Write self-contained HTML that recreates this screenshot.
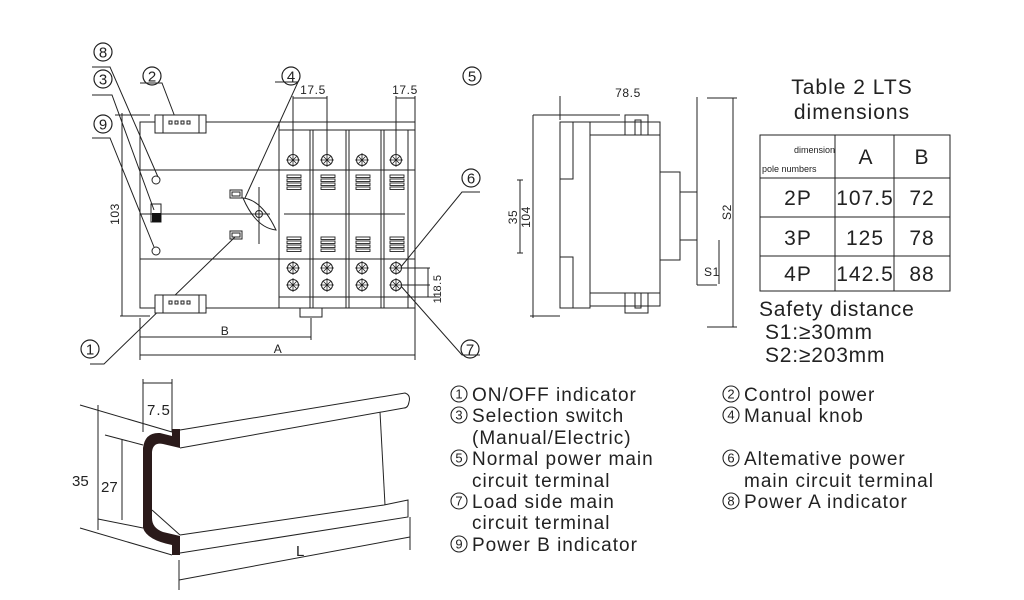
<!DOCTYPE html>
<html><head><meta charset="utf-8"><style>
html,body{margin:0;padding:0;background:#fff;}
svg{display:block;font-family:"Liberation Sans","DejaVu Sans",sans-serif;}
</style></head><body>
<svg width="1024" height="600" viewBox="0 0 1024 600" xmlns="http://www.w3.org/2000/svg">
<defs>
<g id="scr"><circle r="5.5" fill="#fff" stroke="#222" stroke-width="1"/><path d="M-3.5,-3.5L3.5,3.5M-3.5,3.5L3.5,-3.5M0,-7V7M-7,0H7" stroke="#222" stroke-width="0.8"/></g>
<g id="vent" stroke="#222" stroke-width="0.9" fill="#fff"><rect x="-7" y="0" width="14" height="2.5"/><rect x="-7" y="4" width="14" height="2.5"/><rect x="-7" y="8" width="14" height="2.5"/><rect x="-7" y="12" width="14" height="2.5"/></g>
<g id="cn" stroke="#222" stroke-width="1" fill="#fff"><rect x="0" y="0" width="51" height="18"/><rect x="8" y="0" width="36" height="18"/><rect x="14" y="6" width="3" height="3"/><rect x="20" y="6" width="3" height="3"/><rect x="26" y="6" width="3" height="3"/><rect x="32" y="6" width="3" height="3"/></g>
</defs>
<g fill="none" stroke="#222" stroke-width="1">
<rect x="140" y="122" width="275" height="186"/>
<line x1="140" y1="170" x2="279" y2="170"/>
<line x1="140" y1="259" x2="415" y2="259"/>
<line x1="140" y1="214" x2="270" y2="214"/>
<line x1="284" y1="214" x2="405" y2="214"/>
<rect x="279" y="122" width="136" height="186"/>
<line x1="279" y1="130" x2="415" y2="130"/>
<line x1="279" y1="170" x2="415" y2="170"/>
<line x1="310" y1="130" x2="310" y2="308"/><line x1="313" y1="130" x2="313" y2="308"/>
<line x1="346" y1="130" x2="346" y2="308"/><line x1="349" y1="130" x2="349" y2="308"/>
<line x1="381" y1="130" x2="381" y2="308"/><line x1="384" y1="130" x2="384" y2="308"/>
<line x1="279" y1="297" x2="415" y2="297"/>
<line x1="408" y1="130" x2="408" y2="308"/>
<rect x="300" y="308" width="22" height="9"/>
<line x1="122" y1="113" x2="122" y2="316"/>
<line x1="115" y1="115" x2="150" y2="115"/><line x1="120" y1="316" x2="150" y2="316"/>
<circle cx="156" cy="180" r="4"/><circle cx="156" cy="251" r="4"/>
<rect x="151" y="204" width="10" height="18"/>
<rect x="230" y="190" width="12" height="8"/><rect x="232" y="192" width="8" height="4"/>
<rect x="230" y="231" width="12" height="8"/><rect x="232" y="233" width="8" height="4"/>
<path d="M243,198 Q262,200 276,230 Q256,228 243,198Z"/>
<line x1="259" y1="187" x2="259" y2="244"/>
<circle cx="259" cy="214" r="3.5"/>
<line x1="140" y1="318" x2="140" y2="360"/><line x1="415" y1="308" x2="415" y2="360"/><line x1="311" y1="318" x2="311" y2="340"/>
<line x1="140" y1="337" x2="311" y2="337"/><line x1="140" y1="355" x2="415" y2="355"/>
<line x1="293" y1="96" x2="293" y2="155"/><line x1="327" y1="96" x2="327" y2="155"/><line x1="293" y1="98" x2="327" y2="98"/>
<line x1="396" y1="96" x2="396" y2="155"/><line x1="415" y1="96" x2="415" y2="122"/><line x1="396" y1="98" x2="415" y2="98"/>
<line x1="401" y1="268" x2="430" y2="268"/><line x1="401" y1="285" x2="430" y2="285"/><line x1="415" y1="297" x2="440" y2="297"/>
<line x1="428" y1="268" x2="428" y2="297"/>
<path d="M92,67 H110 L158,177"/><path d="M92,95 H112 L154,210"/><path d="M92,138 H110 L154,247"/>
<path d="M140,83 H162 L175,117"/><path d="M275,82 H298 L245,198"/>
<path d="M480,192 H462 L400,268"/><path d="M480,355 H462 L400,285"/>
<path d="M90,364 H104 L235,237"/>
<rect x="560" y="122" width="30" height="186"/>
<rect x="560" y="122" width="13" height="57"/><rect x="560" y="257" width="13" height="51"/>
<rect x="590" y="135" width="70" height="158"/>
<rect x="590" y="122" width="70" height="13"/><rect x="590" y="293" width="70" height="13"/>
<rect x="625" y="115" width="23" height="20"/><rect x="635" y="120" width="6" height="15"/>
<rect x="625" y="293" width="23" height="20"/><rect x="635" y="293" width="6" height="15"/>
<rect x="660" y="172" width="20" height="88"/>
<rect x="680" y="192" width="17" height="48"/>
<line x1="697" y1="97" x2="697" y2="285"/><line x1="697" y1="285" x2="717" y2="285"/>
<line x1="719" y1="240" x2="719" y2="284"/>
<line x1="733" y1="98" x2="733" y2="327"/><line x1="707" y1="98" x2="737" y2="98"/><line x1="707" y1="327" x2="737" y2="327"/>
<line x1="560" y1="96" x2="560" y2="120"/><line x1="533" y1="115" x2="620" y2="115"/>
<line x1="533" y1="115" x2="533" y2="318"/><line x1="530" y1="316" x2="560" y2="316"/>
<line x1="520" y1="180" x2="520" y2="253"/><line x1="517" y1="180" x2="523" y2="180"/><line x1="517" y1="253" x2="523" y2="253"/>
<rect x="760" y="135" width="190" height="156"/>
<line x1="760" y1="178" x2="950" y2="178"/><line x1="760" y1="217" x2="950" y2="217"/><line x1="760" y1="256" x2="950" y2="256"/>
<line x1="835" y1="135" x2="835" y2="291"/><line x1="894" y1="135" x2="894" y2="291"/>
<path d="M180,430 L405,393 Q411,395 409,402 Q408,408 404,408 L180,448"/>
<path d="M180,553 L408,517 L408,500 L384,505 L180,535"/>
<path d="M380,412 L385,505"/>
<path d="M152,510 L180,535"/>
<line x1="80" y1="405" x2="172" y2="432"/><line x1="98" y1="405" x2="98" y2="530"/>
<line x1="80" y1="528" x2="172" y2="555"/>
<line x1="105" y1="435" x2="143" y2="445"/><line x1="122" y1="440" x2="122" y2="520"/><line x1="98" y1="519" x2="143" y2="528"/>
<line x1="143" y1="379" x2="143" y2="432"/><line x1="172" y1="379" x2="172" y2="432"/><line x1="143" y1="383" x2="172" y2="383"/>
<line x1="179" y1="560" x2="179" y2="590"/><line x1="410" y1="517" x2="410" y2="550"/><line x1="179" y1="580" x2="410" y2="537"/>
</g>
<rect x="152" y="213" width="9" height="9" fill="#111"/>
<path d="M172,429 L180,429 L180,448 L163,444 Q153,442 152,452 L152,518 Q152,528 163,532 L180,536 L180,555 L172,555 L172,545 Q147,540 143,528 L143,448 Q145,432 160,433 L172,436Z" fill="#2a1a1a"/>
<g fill="none">
<use href="#cn" x="155" y="115"/><use href="#cn" x="155" y="295"/>
<use href="#scr" x="293" y="160"/><use href="#scr" x="327" y="160"/><use href="#scr" x="362" y="160"/><use href="#scr" x="396" y="160"/>
<use href="#scr" x="293" y="268"/><use href="#scr" x="327" y="268"/><use href="#scr" x="362" y="268"/><use href="#scr" x="396" y="268"/>
<use href="#scr" x="293" y="285"/><use href="#scr" x="327" y="285"/><use href="#scr" x="362" y="285"/><use href="#scr" x="396" y="285"/>
<use href="#vent" x="294" y="175"/><use href="#vent" x="328" y="175"/><use href="#vent" x="363" y="175"/><use href="#vent" x="397" y="175"/>
<use href="#vent" x="294" y="237"/><use href="#vent" x="328" y="237"/><use href="#vent" x="363" y="237"/><use href="#vent" x="397" y="237"/>
</g>
<g fill="#222" font-size="12" letter-spacing="0.6">
<text x="313" y="94" text-anchor="middle">17.5</text>
<text x="405" y="94" text-anchor="middle">17.5</text>
<text x="225" y="335" text-anchor="middle">B</text>
<text x="278" y="353" text-anchor="middle">A</text>
<text x="628" y="97" text-anchor="middle">78.5</text>
<text x="704" y="276">S1</text>
<text transform="translate(119,214) rotate(-90)" text-anchor="middle">103</text>
<text transform="translate(530,217) rotate(-90)" text-anchor="middle">104</text>
<text transform="translate(517,217) rotate(-90)" text-anchor="middle">35</text>
<text transform="translate(731,212) rotate(-90)" text-anchor="middle">S2</text>
<text transform="translate(441,283) rotate(-90)" text-anchor="middle" font-size="11">8.5</text>
<text transform="translate(441,297) rotate(-90)" text-anchor="middle" font-size="11">11</text>
</g>
<g fill="none" stroke="#222" stroke-width="1.2">
<circle cx="103" cy="52" r="9"/><circle cx="103" cy="79" r="9"/><circle cx="152" cy="76" r="9"/><circle cx="103" cy="124" r="9"/>
<circle cx="291" cy="76" r="9"/><circle cx="472" cy="76" r="9"/><circle cx="471" cy="178" r="9"/><circle cx="90" cy="349" r="9"/><circle cx="470" cy="349" r="9"/>
</g>
<g fill="#222" font-size="15" text-anchor="middle">
<text x="103" y="57.5">8</text><text x="103" y="84.5">3</text><text x="152" y="81.5">2</text><text x="103" y="129.5">9</text>
<text x="291" y="81.5">4</text><text x="472" y="81.5">5</text><text x="471" y="183.5">6</text><text x="90" y="354.5">1</text><text x="470" y="354.5">7</text>
</g>
<g fill="#222" font-size="15">
<text x="147" y="415" letter-spacing="1">7.5</text><text x="72" y="486">35</text><text x="101" y="492">27</text><text x="296" y="556">L</text>
</g>
<g fill="#222" font-size="21" text-anchor="middle" letter-spacing="1">
<text x="852" y="94">Table 2 LTS</text><text x="852" y="119">dimensions</text>
<text x="866" y="164">A</text><text x="922" y="164">B</text>
<text x="798" y="205">2P</text><text x="865" y="205">107.5</text><text x="922" y="205">72</text>
<text x="798" y="245">3P</text><text x="865" y="245">125</text><text x="922" y="245">78</text>
<text x="798" y="281">4P</text><text x="865" y="281">142.5</text><text x="922" y="281">88</text>
</g>
<g fill="#222" font-size="9"><text x="794" y="153">dimension</text><text x="762" y="172">pole numbers</text></g>
<g fill="#222" font-size="21" letter-spacing="0.8"><text x="759" y="316">Safety distance</text><text x="765" y="339">S1:≥30mm</text><text x="765" y="362">S2:≥203mm</text></g>
<g fill="none" stroke="#222" stroke-width="1.1">
<circle cx="459" cy="394" r="8"/><circle cx="459" cy="415" r="8"/><circle cx="459" cy="458" r="8"/><circle cx="459" cy="501" r="8"/><circle cx="459" cy="544" r="8"/>
<circle cx="731" cy="394" r="8"/><circle cx="731" cy="415" r="8"/><circle cx="731" cy="458" r="8"/><circle cx="731" cy="501" r="8"/>
</g>
<g fill="#222" font-size="13" text-anchor="middle">
<text x="459" y="398.5">1</text><text x="459" y="419.5">3</text><text x="459" y="462.5">5</text><text x="459" y="505.5">7</text><text x="459" y="548.5">9</text>
<text x="731" y="398.5">2</text><text x="731" y="419.5">4</text><text x="731" y="462.5">6</text><text x="731" y="505.5">8</text>
</g>
<g fill="#222" font-size="19" letter-spacing="1">
<text x="472" y="401">ON/OFF indicator</text>
<text x="472" y="422">Selection switch</text>
<text x="472" y="444">(Manual/Electric)</text>
<text x="472" y="465">Normal power main</text>
<text x="472" y="487">circuit terminal</text>
<text x="472" y="508">Load side main</text>
<text x="472" y="529">circuit terminal</text>
<text x="472" y="551">Power B indicator</text>
<text x="744" y="401">Control power</text>
<text x="744" y="422">Manual knob</text>
<text x="744" y="465">Altemative power</text>
<text x="744" y="487">main circuit terminal</text>
<text x="744" y="508">Power A indicator</text>
</g>
</svg>
</body></html>
